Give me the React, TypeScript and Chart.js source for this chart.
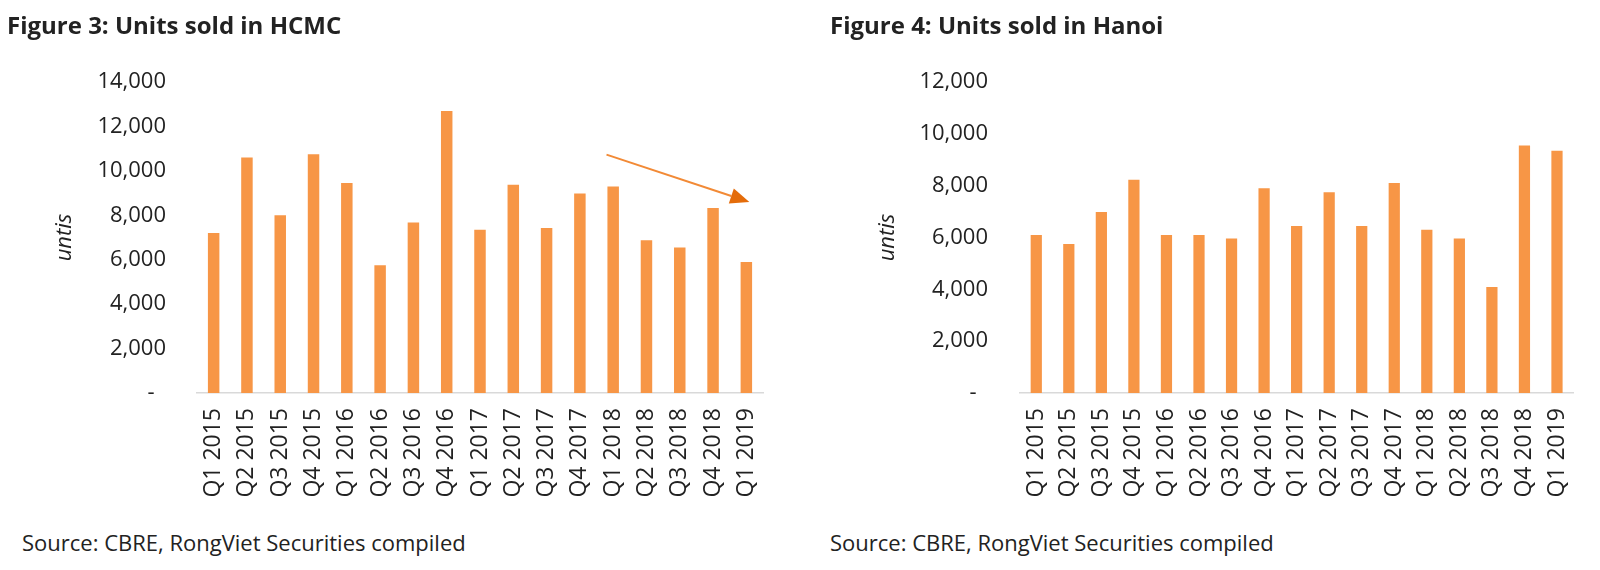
import React, { useEffect, useRef } from 'react';
import { Chart, registerables } from 'chart.js';

Chart.register(...registerables);

const categories = [
  'Q1 2015', 'Q2 2015', 'Q3 2015', 'Q4 2015',
  'Q1 2016', 'Q2 2016', 'Q3 2016', 'Q4 2016',
  'Q1 2017', 'Q2 2017', 'Q3 2017', 'Q4 2017',
  'Q1 2018', 'Q2 2018', 'Q3 2018', 'Q4 2018',
  'Q1 2019',
];

const hcmcUnits = [7200, 10600, 8000, 10750, 9450, 5750, 7680, 12700, 7350, 9370, 7430, 8980, 9300, 6880, 6550, 8330, 5900];
const hanoiUnits = [6100, 5750, 6980, 8230, 6100, 6100, 5960, 7900, 6440, 7750, 6440, 8100, 6300, 5960, 4090, 9550, 9350];

const hcmcAxisMax = 14000;
const hanoiAxisMax = 12000;
const tickStep = 2000;

// Trend arrow for HCMC, in data units (category index, units)
const hcmcTrendFrom = { x: 11.8, y: 10730 };
const hcmcTrendTo = { x: 16.09, y: 8600 };

const yTitle = 'untis';
const sourceText = 'Source: CBRE, RongViet Securities compiled';

const FONT = "'Open Sans', 'Noto Sans', sans-serif";
const BAR = '#F79646';
const TEXT = '#222222';

type Pt = { x: number; y: number };

type PanelProps = {
  pageLeft: number;
  width: number;
  height: number;
  values: number[];
  axisMax: number;
  axisWidth: number;
  titleCenter: number;
  tickPad: number;
  padRight: number;
  arrow?: { from: Pt; to: Pt };
};

function BarPanel(p: PanelProps) {
  const ref = useRef<HTMLCanvasElement | null>(null);
  useEffect(() => {
    if (!ref.current) return;
    const plotTop = 82;
    const plotBottom = 393;
    const arrowPlugin = {
      id: 'trendArrow',
      afterDatasetsDraw(chart: any) {
        if (!p.arrow) return;
        const { ctx, scales } = chart;
        const x1 = scales.x.getPixelForValue(p.arrow.from.x);
        const y1 = scales.y.getPixelForValue(p.arrow.from.y);
        const x2 = scales.x.getPixelForValue(p.arrow.to.x);
        const y2 = scales.y.getPixelForValue(p.arrow.to.y);
        const ang = Math.atan2(y2 - y1, x2 - x1);
        const headLen = 19;
        const headHalf = 8;
        const bx = x2 - headLen * Math.cos(ang);
        const by = y2 - headLen * Math.sin(ang);
        ctx.save();
        ctx.strokeStyle = '#F28A36';
        ctx.lineWidth = 2;
        ctx.beginPath();
        ctx.moveTo(x1, y1);
        ctx.lineTo(bx, by);
        ctx.stroke();
        ctx.fillStyle = '#E46C0A';
        ctx.beginPath();
        ctx.moveTo(x2, y2);
        ctx.lineTo(bx + headHalf * Math.sin(ang), by - headHalf * Math.cos(ang));
        ctx.lineTo(bx - headHalf * Math.sin(ang), by + headHalf * Math.cos(ang));
        ctx.closePath();
        ctx.fill();
        ctx.restore();
      },
    };
    const titleFontSize = 22;
    const chart = new Chart(ref.current, {
      type: 'bar',
      data: {
        labels: categories,
        datasets: [
          {
            data: p.values,
            backgroundColor: BAR,
            borderWidth: 0,
            barPercentage: 0.345,
            categoryPercentage: 1,
          },
        ],
      },
      options: {
        responsive: false,
        animation: false,
        layout: { padding: { top: plotTop, right: p.padRight, bottom: 0, left: 0 } },
        plugins: {
          legend: { display: false },
          tooltip: { enabled: false },
          title: { display: false },
        },
        scales: {
          x: {
            grid: { display: false, drawTicks: false },
            border: { display: true, color: '#d9d9d9', width: 1.5 },
            ticks: {
              autoSkip: false,
              maxRotation: 90,
              minRotation: 90,
              padding: 15,
              color: TEXT,
              font: { family: FONT, size: 23 },
            },
            afterFit(scale: any) {
              scale.height = p.height - plotBottom;
            },
          },
          y: {
            min: 0,
            max: p.axisMax,
            grid: { display: false, drawTicks: false },
            border: { display: false },
            ticks: {
              stepSize: tickStep,
              padding: p.tickPad,
              color: TEXT,
              font: { family: FONT, size: 22 },
              callback: (v: any) => (Number(v) === 0 ? '-  ' : Number(v).toLocaleString('en-US')),
            },
            title: {
              display: true,
              text: yTitle,
              color: TEXT,
              font: { family: FONT, size: titleFontSize, style: 'italic' },
              padding: { top: p.titleCenter - (titleFontSize * 1.2) / 2, bottom: 0 },
            },
            afterFit(scale: any) {
              scale.width = p.axisWidth;
            },
          },
        },
      },
      plugins: [arrowPlugin],
    });
    return () => chart.destroy();
  }, []);
  return (
    <canvas
      ref={ref}
      width={p.width}
      height={p.height}
      style={{ position: 'absolute', left: p.pageLeft, top: 0, width: p.width, height: p.height, display: 'block' }}
    />
  );
}

const titleStyle: React.CSSProperties = {
  position: 'absolute',
  top: 13,
  fontFamily: FONT,
  fontWeight: 700,
  fontSize: 24,
  lineHeight: 1,
  color: TEXT,
  whiteSpace: 'nowrap',
};

const sourceStyle: React.CSSProperties = {
  position: 'absolute',
  top: 531,
  fontFamily: FONT,
  fontSize: 22,
  lineHeight: 1,
  color: TEXT,
  whiteSpace: 'nowrap',
};

export default function App() {
  return (
    <div style={{ position: 'absolute', left: 0, top: 0, width: 1600, height: 570, background: '#fff', overflow: 'hidden' }}>
      <BarPanel
        pageLeft={0}
        width={790}
        height={520}
        values={hcmcUnits}
        axisMax={hcmcAxisMax}
        axisWidth={197}
        titleCenter={65}
        tickPad={31}
        padRight={27}
        arrow={{ from: hcmcTrendFrom, to: hcmcTrendTo }}
      />
      <BarPanel
        pageLeft={800}
        width={800}
        height={520}
        values={hanoiUnits}
        axisMax={hanoiAxisMax}
        axisWidth={220}
        titleCenter={88}
        tickPad={32}
        padRight={14}
      />
      <div style={{ ...titleStyle, left: 7 }}>Figure 3: Units sold in HCMC</div>
      <div style={{ ...titleStyle, left: 830 }}>Figure 4: Units sold in Hanoi</div>
      <div style={{ ...sourceStyle, left: 22 }}>{sourceText}</div>
      <div style={{ ...sourceStyle, left: 830 }}>{sourceText}</div>
    </div>
  );
}
